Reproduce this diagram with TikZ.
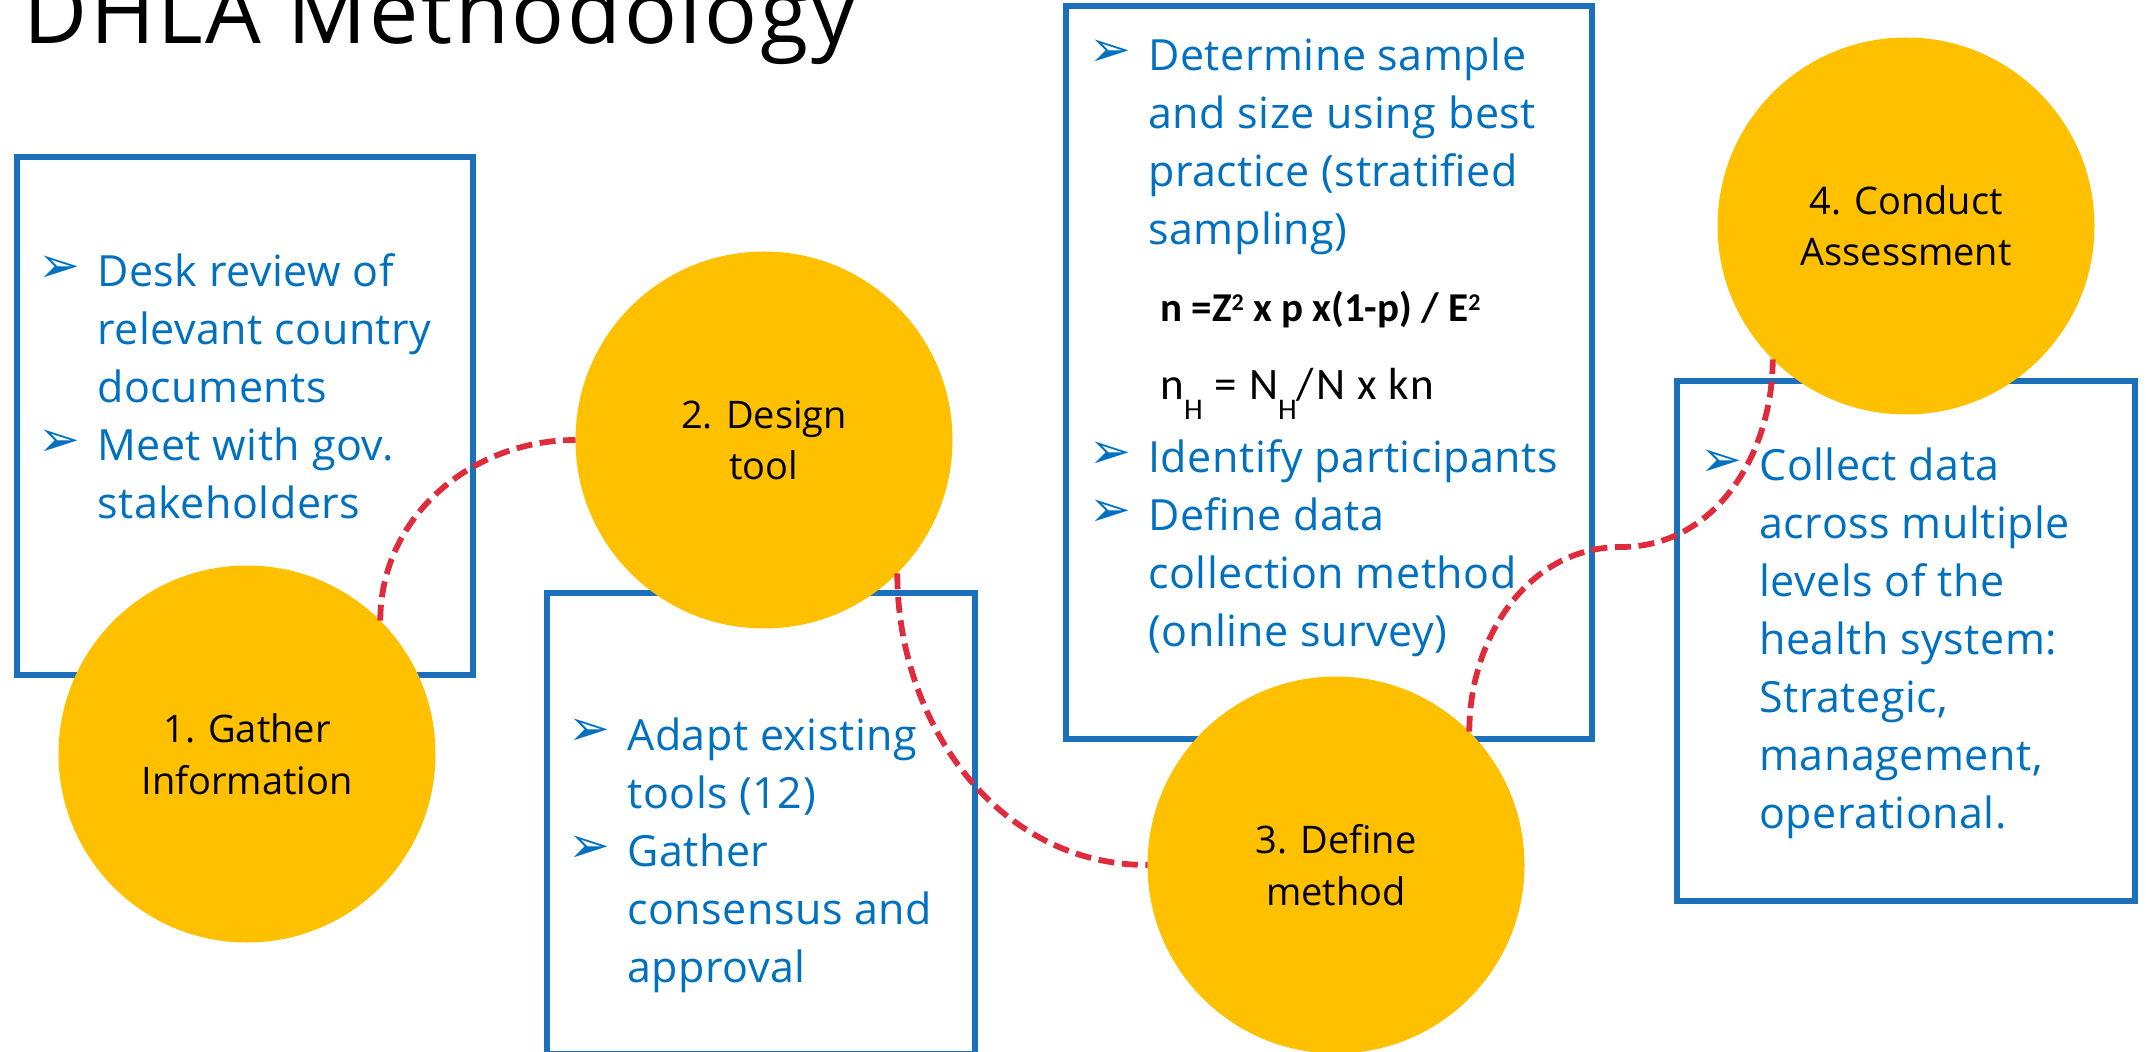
\documentclass[tikz,border=0pt]{standalone}
\usepackage{fontspec}
\setmainfont{Open Sans}
\newfontfamily\bodyfont{Open Sans}[LetterSpace=1.2]
\newfontfamily\titlefont{Open Sans}[LetterSpace=3]
\newfontfamily\formfont{Carlito}
\newfontfamily\formfontsp{Carlito}[LetterSpace=4]
\newfontfamily\dingfont{DejaVu Sans}
\definecolor{gold}{RGB}{255,192,0}
\definecolor{boxblue}{RGB}{28,111,186}
\definecolor{txtblue}{RGB}{0,112,192}
\definecolor{dashred}{RGB}{222,44,60}
\newcommand{\blt}{\raisebox{2pt}{\dingfont\fontsize{25}{25}\selectfont ➢}}
\newcommand{\sq}{\raisebox{5.5pt}{\fontsize{12}{12}\selectfont 2}}
\newcommand{\subH}{\raisebox{-10pt}{\fontsize{15}{15}\selectfont H}}
\begin{document}
\begin{tikzpicture}[x=0.5pt,y=0.5pt,
  listbox/.style={draw=boxblue,line width=2.8pt,inner sep=0,outer sep=0,anchor=north west},
  stage/.style={circle,fill=gold,minimum size=188.5pt,inner sep=0,outer sep=0,align=center,font=\fontsize{19}{25.75}\selectfont},
  bullets/.style={anchor=base west,inner sep=0,text=txtblue,font=\bodyfont\fontsize{21.5}{29}\selectfont},
  formula/.style={anchor=base west,inner sep=0},
  dashlink/.style={dashred,line width=2.9pt,dash pattern=on 8pt off 3.8pt}]
\useasboundingbox (0,0) rectangle (2146,-1052);
\clip (0,0) rectangle (2146,-1052);
\node[anchor=base west,inner sep=0,font=\titlefont\fontsize{44}{50}\selectfont] (title) at (23,-44) {DHLA Methodology};
\node[listbox,minimum width=228pt,minimum height=259pt] (b1) at (17,-157) {};
\node[listbox,minimum width=214pt,minimum height=230.5pt] (b2) at (547,-593) {};
\node[listbox,minimum width=263pt,minimum height=366.5pt] (b3) at (1066,-6) {};
\node[listbox,minimum width=229pt,minimum height=260pt] (b4) at (1677,-381) {};
\node[stage] (c1) at (247,-754) {1. Gather\\Information};
\node[stage] (c2) at (764,-440) {2. Design\\tool};
\node[stage] (c3) at (1336,-865) {3. Define\\method};
\node[stage] (c4) at (1906,-226) {4. Conduct\\Assessment};
\node[bullets] (t1) at (38,-287) {\begin{tabular}[t]{@{}p{29.5pt}@{}l@{}}
\blt & Desk review of\\
 & relevant country\\
 & documents\\
\blt & Meet with gov.\\
 & stakeholders
\end{tabular}};
\node[bullets] (t2) at (568,-750) {\begin{tabular}[t]{@{}p{29.5pt}@{}l@{}}
\blt & Adapt existing\\
 & tools (12)\\
\blt & Gather\\
 & consensus and\\
 & approval
\end{tabular}};
\node[bullets] (t3) at (1089,-71) {\begin{tabular}[t]{@{}p{29.5pt}@{}l@{}}
\blt & Determine sample\\
 & and size using best\\
 & practice (stratified\\
 & sampling)
\end{tabular}};
\node[formula,font=\formfont\bfseries\fontsize{20.5}{24}\selectfont] (f1) at (1160,-322) {n =Z\sq{} x p x(1-p) / E\sq};
\node[formula,font=\formfontsp\fontsize{22.5}{26}\selectfont] (f2) at (1160,-400) {n\subH{} = N\subH/N x kn};
\node[bullets] (t4) at (1089,-473) {\begin{tabular}[t]{@{}p{29.5pt}@{}l@{}}
\blt & Identify participants\\
\blt & Define data\\
 & collection method\\
 & (online survey)
\end{tabular}};
\node[bullets] (t5) at (1700,-481) {\begin{tabular}[t]{@{}p{29.5pt}@{}l@{}}
\blt & Collect data\\
 & across multiple\\
 & levels of the\\
 & health system:\\
 & Strategic,\\
 & management,\\
 & operational.
\end{tabular}};
\coordinate (m34) at (1621,-547);
\draw[dashlink] (c1.45) to[out=90,in=180] (c2.west);
\draw[dashlink] (c2.-45) to[out=-90,in=180] (c3.west);
\draw[dashlink] (c3.45) to[out=90,in=180] (m34) to[out=0,in=-90] (c4.225);
\end{tikzpicture}
\end{document}
